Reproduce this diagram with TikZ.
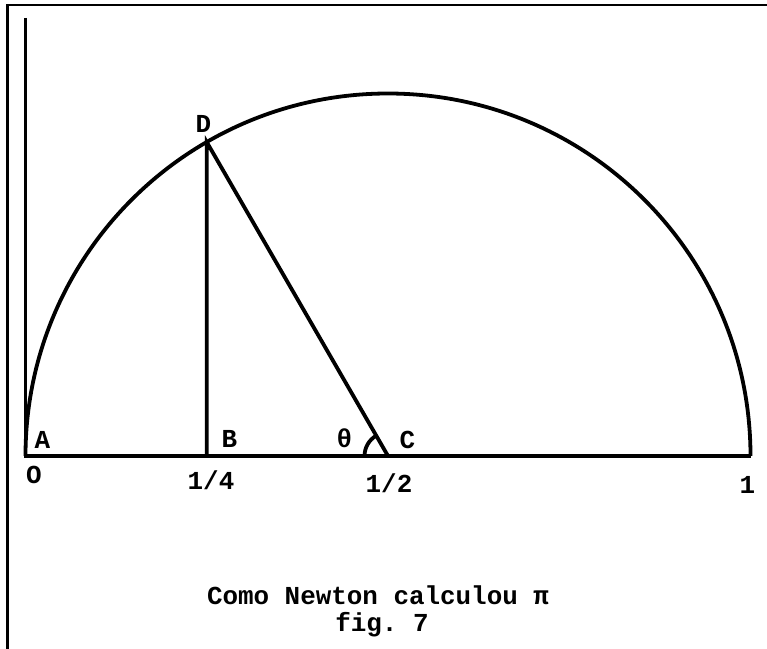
\documentclass[tikz,border=0pt]{standalone}
\usepackage{fontspec}
\setmonofont{Liberation Mono}
\begin{document}
\begin{tikzpicture}[x=1bp,y=1bp,
  geo/.style={line width=3.8bp},
  frame/.style={line width=2.4bp},
  lbl/.style={font=\fontsize{26}{28}\selectfont\ttfamily\bfseries, inner sep=0pt, anchor=base}]
\useasboundingbox (0,0) rectangle (767,-649);
\coordinate (O) at (25.5,-456);
\coordinate (B) at (206.75,-456);
\coordinate (C) at (388,-456);
\coordinate (E) at (750.5,-456);
\coordinate (D) at (206.75,-142.1);
\coordinate (T) at (25.5,-18);
\coordinate (FL) at (7.5,-649);
\coordinate (FT) at (7.5,-5);
\coordinate (FR) at (767,-5);
% frame
\draw[frame] (FL) -- (FT) -- (FR);
% axes
\draw[geo] (T) -- (O) -- (E);
% semicircle
\draw[geo] (E) arc[start angle=0,end angle=180,radius=362.5];
% segments
\draw[geo] (B) -- (D) -- (C);
% angle mark
\draw[geo] ([shift={(120:23.5)}]C) arc[start angle=120,end angle=180,radius=23.5];
% labels
\node[lbl] (lA) at (42.5,-448) {A};
\node[lbl] (lB) at (229.5,-447) {B};
\node[lbl] (lth) at (344.5,-447) {θ};
\node[lbl] (lC) at (407.5,-448) {C};
\node[lbl] (lD) at (203.5,-133) {D};
\node[lbl] (lO) at (34,-483) {O};
\node[lbl] (l14) at (211,-489) {1/4};
\node[lbl] (l12) at (389,-492) {1/2};
\node[lbl] (l1) at (747.5,-493) {1};
\node[lbl] (cap1) at (378,-604) {Como Newton calculou π};
\node[lbl] (cap2) at (382,-631) {fig. 7};
\end{tikzpicture}
\end{document}
